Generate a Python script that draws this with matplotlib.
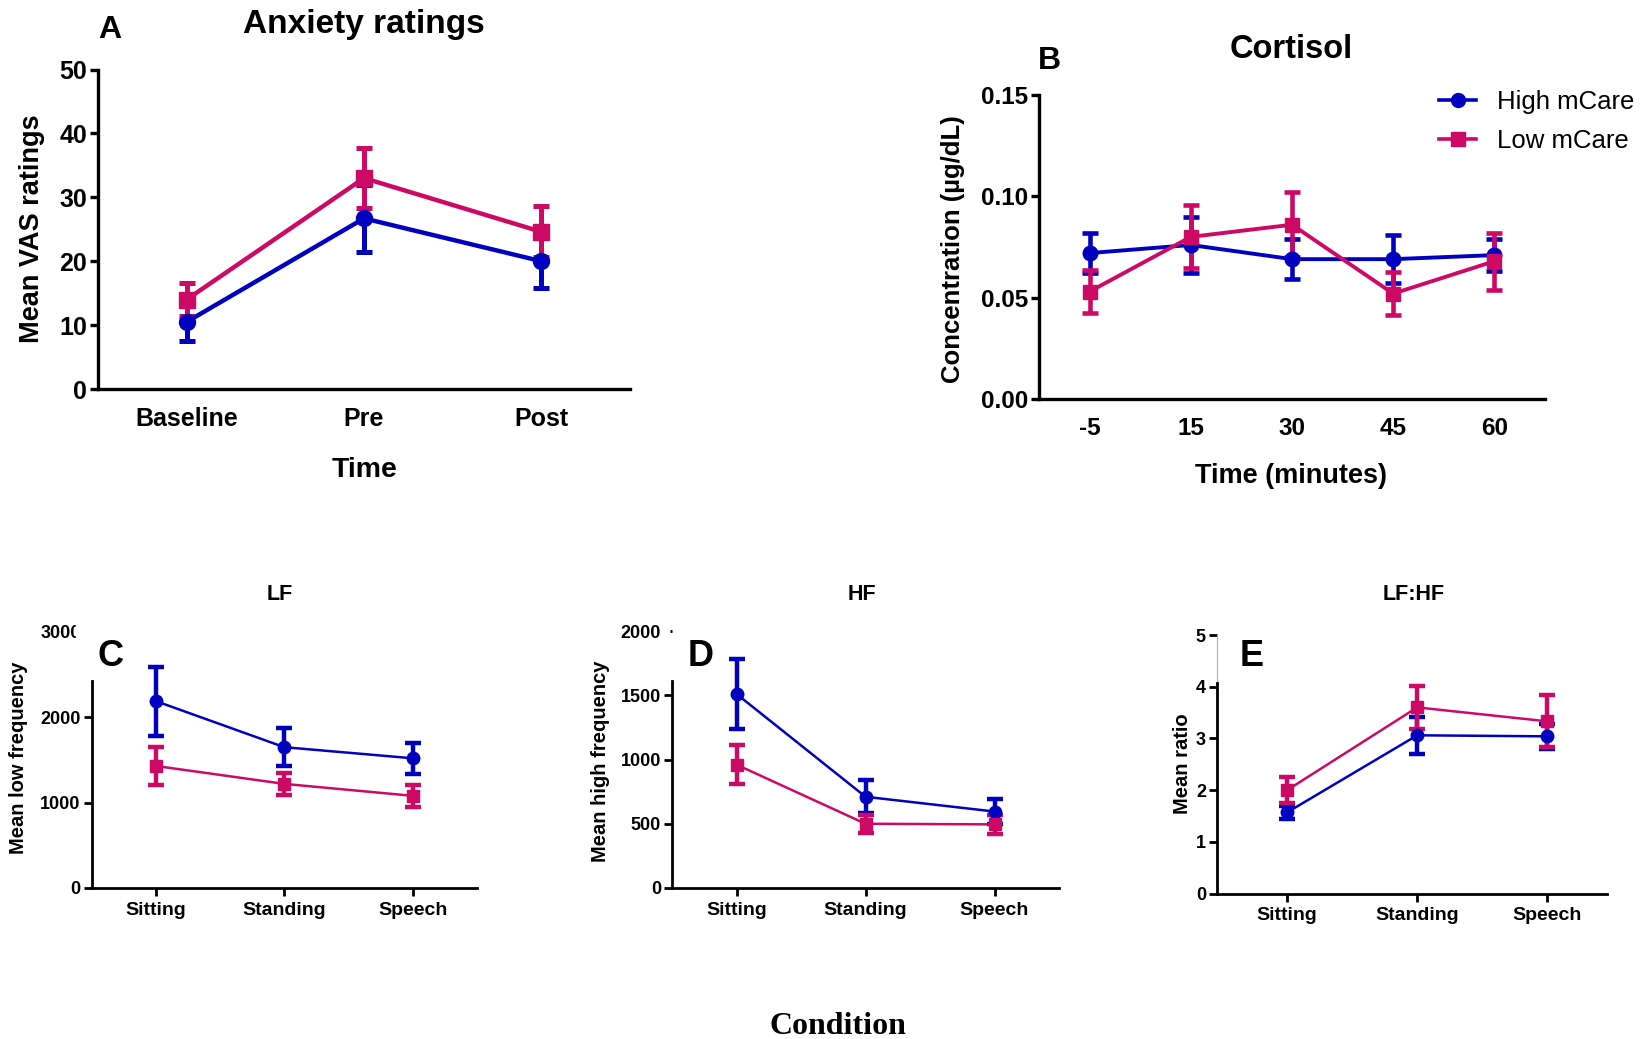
import matplotlib
matplotlib.use('Agg')
import matplotlib.pyplot as plt
from matplotlib.lines import Line2D
from matplotlib.patches import Rectangle

W, H = 1652, 1039
BLUE = '#0000BF'
PINK = '#CC0A66'
NARROW = ['Liberation Sans Narrow', 'Liberation Sans']
SANS = ['Liberation Sans', 'DejaVu Sans']

# anxiety ratings (mean VAS +/- error)
anx_labels = ['Baseline', 'Pre', 'Post']
anx_high = [10.5, 26.7, 20.0]
anx_high_err = [3.0, 5.2, 4.2]
anx_low = [14.0, 33.0, 24.6]
anx_low_err = [2.6, 4.7, 4.0]

# salivary cortisol
cort_labels = ['-5', '15', '30', '45', '60']
cort_high = [0.072, 0.076, 0.069, 0.069, 0.071]
cort_high_err = [0.010, 0.014, 0.010, 0.012, 0.008]
cort_low = [0.053, 0.080, 0.086, 0.052, 0.068]
cort_low_err = [0.0105, 0.0155, 0.016, 0.0105, 0.014]

# heart rate variability by condition
cond_labels = ['Sitting', 'Standing', 'Speech']
lf_high = [2190, 1650, 1520]
lf_high_err = [405, 225, 180]
lf_low = [1430, 1220, 1080]
lf_low_err = [220, 130, 130]
hf_high = [1510, 710, 595]
hf_high_err = [275, 130, 95]
hf_low = [960, 500, 495]
hf_low_err = [150, 70, 75]
ratio_high = [1.57, 3.06, 3.04]
ratio_high_err = [0.12, 0.36, 0.24]
ratio_low = [2.00, 3.60, 3.33]
ratio_low_err = [0.25, 0.41, 0.50]

fig = plt.figure(figsize=(W / 100, H / 100), dpi=100)


def px_axes(left, top, right, bottom):
    return fig.add_axes([left / W, 1 - bottom / H, (right - left) / W, (bottom - top) / H])


def ftext(x, y, s, size, family=SANS, weight='bold', rot=0, **kw):
    fig.text(x / W, 1 - y / H, s, fontsize=size, family=family, weight=weight,
             rotation=rot, ha='center', va='center', **kw)


def series(ax, y, err, color, marker, ms, lw, elw, cap):
    ax.errorbar(range(len(y)), y, yerr=err, color=color, marker=marker, ms=ms,
                lw=lw, elinewidth=elw, capsize=cap, capthick=elw)


def style(ax, lw, xticks_on, xlabels, ylabels, xsize, ysize, xfam, xpad, xlim=None):
    for s in ['top', 'right']:
        ax.spines[s].set_visible(False)
    for s in ['left', 'bottom']:
        ax.spines[s].set_linewidth(lw)
    ax.tick_params(axis='y', direction='out', length=6, width=lw, pad=2)
    ax.tick_params(axis='x', direction='out', length=6 if xticks_on else 0,
                   width=lw, pad=xpad)
    ax.set_xticks(range(len(xlabels)))
    ax.set_xticklabels(xlabels, fontsize=xsize, family=xfam, weight='bold')
    ax.set_yticklabels(ylabels, fontsize=ysize, family=NARROW if ysize > 14 else SANS,
                       weight='bold')
    ax.set_xlim(xlim or (-0.5, len(xlabels) - 0.5))


# A: anxiety ratings
axA = px_axes(98, 69.5, 630, 389)
series(axA, anx_high, anx_high_err, BLUE, 'o', 11.5, 3.2, 3.6, 6)
series(axA, anx_low, anx_low_err, PINK, 's', 11.5, 3.2, 3.6, 6)
axA.set_ylim(0, 50)
axA.set_yticks(range(0, 51, 10))
style(axA, 2.4, False, anx_labels, [str(v) for v in range(0, 51, 10)], 18, 18, SANS, 13)
ftext(364, 24, 'Anxiety ratings', 24)
ftext(110, 30, 'A', 23)
ftext(32, 229, 'Mean VAS ratings', 19.5, rot=90)
ftext(365, 470, 'Time', 20.5)

# B: cortisol
axB = px_axes(1039, 95, 1545, 399)
series(axB, cort_high, cort_high_err, BLUE, 'o', 10.5, 2.8, 3.3, 5.5)
series(axB, cort_low, cort_low_err, PINK, 's', 10.5, 2.8, 3.3, 5.5)
axB.set_ylim(0, 0.15)
axB.set_yticks([0, 0.05, 0.10, 0.15])
style(axB, 2.4, False, cort_labels, ['0.00', '0.05', '0.10', '0.15'], 17.5, 17.5, NARROW, 13)
ftext(1291, 49, 'Cortisol', 23.5)
ftext(1049, 61, 'B', 23)
ftext(953, 249, 'Concentration (\u00b5g/dL)', 18.5, rot=90)
ftext(1291, 476, 'Time (minutes)', 19.5)

handles = [Line2D([], [], color=BLUE, marker='o', ms=10, lw=2.6),
           Line2D([], [], color=PINK, marker='s', ms=10, lw=2.6)]
axB.legend(handles, ['High mCare', 'Low mCare'], loc='upper left',
           bbox_to_anchor=(1439 / W, 1 - 90 / H), bbox_transform=fig.transFigure,
           frameon=False, borderpad=0, borderaxespad=0, handlelength=1.45,
           handletextpad=0.8, labelspacing=0.6,
           prop={'family': NARROW, 'size': 18.5})

# C, D, E: heart rate variability
hrv = [
    (91.7, 632, 477, 888, lf_high, lf_high_err, lf_low, lf_low_err,
     3000, 1000, 2420, 'LF', 280, 'C', 110.6, 'Mean low frequency', 19, 758, None),
    (672, 631, 1059, 888, hf_high, hf_high_err, hf_low, hf_low_err,
     2000, 500, 1610, 'HF', 862, 'D', 700.6, 'Mean high frequency', 600.5, 761, None),
    (1217, 635, 1607, 893.5, ratio_high, ratio_high_err, ratio_low, ratio_low_err,
     5, 1, 4.08, 'LF:HF', 1414, 'E', 1251.7, 'Mean ratio', 1182, 764, (-0.54, 2.46)),
]
for (l, t, r, b, hi, hi_e, lo, lo_e, ymax, step, spine_top, title, tx,
     letter, lx, ylab, yx, yy, xlim) in hrv:
    ax = px_axes(l, t, r, b)
    series(ax, hi, hi_e, BLUE, 'o', 9, 1.8, 3.2, 5.5)
    series(ax, lo, lo_e, PINK, 's', 9, 1.8, 3.2, 5.5)
    ax.set_ylim(0, ymax)
    yt = list(range(0, ymax + 1, step))
    ax.set_yticks(yt)
    style(ax, 2.0, True, cond_labels, [str(v) for v in yt], 14, 13, SANS, 4, xlim)
    ax.spines['left'].set_bounds(0, spine_top)
    top_tick = ax.yaxis.get_major_ticks()[-1]
    if letter == 'C':
        top_tick.tick1line.set_visible(False)
        fig.add_artist(Rectangle((76 / W, 1 - 645 / H), 12 / W, 27 / H,
                                 transform=fig.transFigure, color='white', zorder=10))
    elif letter == 'D':
        top_tick.tick1line.set_markersize(1.5)
    else:
        ax.plot([xlim[0], xlim[0]], [spine_top, ymax], color='#b0b0b0', lw=0.8,
                clip_on=False)
    ftext(tx, 594, title, 15.5)
    ftext(lx, 656, letter, 26, zorder=11)
    ftext(yx, yy, ylab, 14.5, rot=90)

ftext(838, 1026, 'Condition', 23, family=['Liberation Serif', 'DejaVu Serif'])

fig.savefig('out.png', dpi=100, facecolor='white')
